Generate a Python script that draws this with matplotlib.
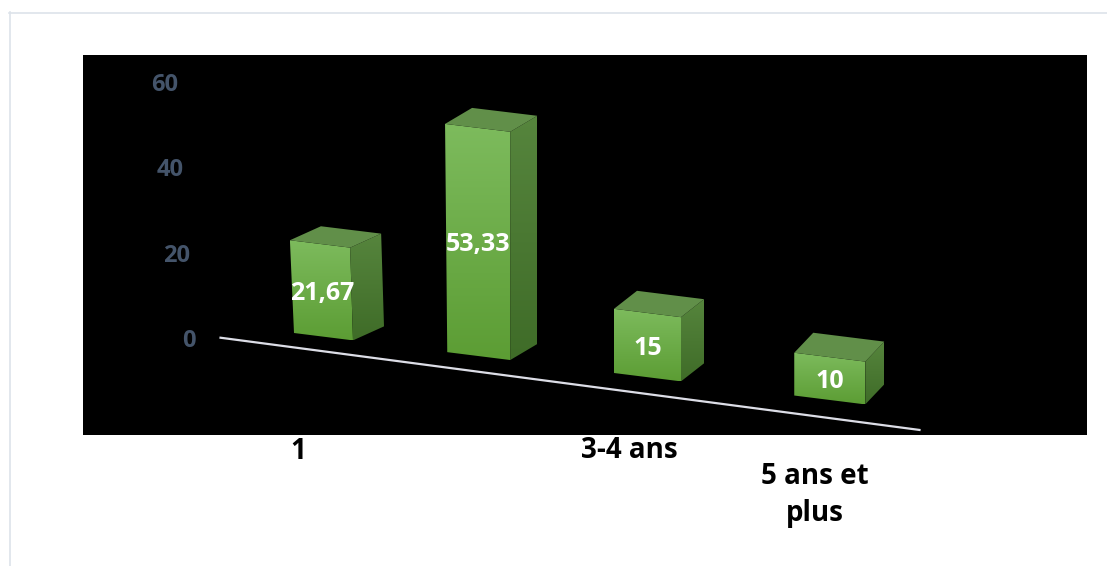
import matplotlib.pyplot as plt
import numpy as np
from matplotlib.colors import LinearSegmentedColormap
from matplotlib.patches import Polygon, Rectangle

categories = ["1", "", "3-4 ans", "5 ans et\nplus"]
values = [21.67, 53.33, 15, 10]
yticks = [0, 20, 40, 60]

# layout, in pixels of a 1107x566 canvas
W, H = 1107, 566
PX_PER_UNIT = 4.28
label_top = [437, 437, 436, 462]

FRONT_TOP, FRONT_BOT = "#7dbb5d", "#5c9d34"
SIDE_TOP, SIDE_BOT = "#56853d", "#3f6c28"
TOP_FACE = "#618f49"
FONT = ["Open Sans", "DejaVu Sans"]


def front_left(u):
    return 294 + 146.5 * u + 6.75 * u ** 2


def bar_width(u):
    return 59 + 4 * u


def floor_y(x):
    return 333 + 0.125 * (x - 294)


def lean(x):
    return max(0.0, 0.045 * (1 - (x - 290) / 200))


def depth(u):
    return np.array([31 - 4 * u, -14 - 2 * u])


def proj(x, v):
    h = v * PX_PER_UNIT
    return np.array([x - lean(x) * h, floor_y(x) - h])


def gradient_face(ax, pts, c_top, c_bot):
    patch = Polygon(pts, closed=True, facecolor="none", edgecolor="none")
    ax.add_patch(patch)
    cmap = LinearSegmentedColormap.from_list("face", [c_top, c_bot])
    ys = pts[:, 1]
    xs = pts[:, 0]
    im = ax.imshow(np.linspace(0, 1, 128)[:, None], cmap=cmap, origin="upper",
                   extent=(xs.min(), xs.max(), ys.max(), ys.min()),
                   interpolation="bicubic", zorder=3)
    im.set_clip_path(patch)


fig = plt.figure(figsize=(W / 100, H / 100), dpi=100)
ax = fig.add_axes([0, 0, 1, 1])

# frame lines and black panel
ax.plot([9, W], [12.5, 12.5], color="#dde3ea", lw=1.2, zorder=1)
ax.plot([9.5, 9.5], [12, H], color="#dde3ea", lw=1.2, zorder=1)
ax.add_patch(Rectangle((83, 55), 1004, 380, facecolor="black", zorder=1))

# floor edge
u0, u1 = -0.33, 3.72
p0 = proj(front_left(u0), 0) - 0.8 * depth(u0)
p1 = proj(front_left(u1), 0) - 0.8 * depth(u1)
ax.plot([p0[0], p1[0]], [p0[1], p1[1]], color="#dcdde6", lw=1.6, zorder=2)

for i, (cat, v) in enumerate(zip(categories, values)):
    x0 = front_left(i)
    x1 = x0 + bar_width(i)
    d = depth(i)
    fbl, fbr = proj(x0, 0), proj(x1, 0)
    ftl, ftr = proj(x0, v), proj(x1, v)

    gradient_face(ax, np.array([fbl, fbr, ftr, ftl]), FRONT_TOP, FRONT_BOT)
    gradient_face(ax, np.array([fbr, fbr + d, ftr + d, ftr]), SIDE_TOP, SIDE_BOT)
    ax.add_patch(Polygon(np.array([ftl, ftr, ftr + d, ftl + d]), closed=True,
                         facecolor=TOP_FACE, edgecolor="none", zorder=3))

    txt = f"{v:.2f}".rstrip("0").rstrip(".").replace(".", ",")
    cx = (fbl[0] + fbr[0] + ftl[0] + ftr[0]) / 4
    cy = (fbl[1] + fbr[1] + ftl[1] + ftr[1]) / 4 + 3
    ax.text(cx, cy, txt, color="white", fontsize=18, fontweight="bold",
            family=FONT, ha="center", va="center", zorder=5)

    ax.text((x0 + x1) / 2 - 25 + 3.5 * i, label_top[i], cat, color="black",
            fontsize=20, fontweight="bold", family=FONT, ha="center",
            va="top", multialignment="center", linespacing=1.35, zorder=0)

for t in yticks:
    ax.text(196 - 0.3 * t, 341 - 4.27 * t, str(t), color="#44546a",
            fontsize=17, fontweight="bold", family=FONT, ha="right",
            va="center", zorder=4)

ax.set_xlim(0, W)
ax.set_ylim(H, 0)
ax.set_aspect("auto")
ax.axis("off")
fig.savefig("out.png", dpi=100, facecolor="white")
